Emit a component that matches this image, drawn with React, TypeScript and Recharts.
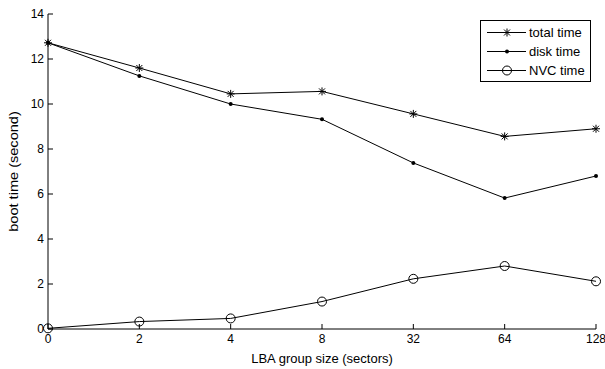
import React from "react"
import { LineChart, Line, XAxis, YAxis, Legend } from "recharts"

const SIZES = ["0", "2", "4", "8", "32", "64", "128"]
const TOTAL = [12.72, 11.6, 10.45, 10.56, 9.56, 8.56, 8.9]
const DISK = [12.72, 11.25, 10.0, 9.32, 7.38, 5.82, 6.8]
const NVC = [0.03, 0.33, 0.47, 1.22, 2.23, 2.8, 2.12]
const Y_TICKS = [0, 2, 4, 6, 8, 10, 12, 14]

const FONT = "'Liberation Sans', Arial, Helvetica, sans-serif"
const INK = "#000"

const data = SIZES.map((x, i) => ({ x, total: TOTAL[i], disk: DISK[i], nvc: NVC[i] }))

function Star({ cx, cy }: { cx: number; cy: number }) {
  const r = 4
  const d = 3
  return (
    <g stroke={INK} strokeWidth={1}>
      <line x1={cx - r} y1={cy} x2={cx + r} y2={cy} />
      <line x1={cx} y1={cy - r} x2={cx} y2={cy + r} />
      <line x1={cx - d} y1={cy - d} x2={cx + d} y2={cy + d} />
      <line x1={cx - d} y1={cy + d} x2={cx + d} y2={cy - d} />
    </g>
  )
}

function Dot({ cx, cy }: { cx: number; cy: number }) {
  return <circle cx={cx} cy={cy} r={2} fill={INK} stroke="none" />
}

function Ring({ cx, cy }: { cx: number; cy: number }) {
  return <circle cx={cx} cy={cy} r={4.5} fill="none" stroke={INK} strokeWidth={1} />
}

const LEGEND_ITEMS = [
  { name: "total time", Marker: Star },
  { name: "disk time", Marker: Dot },
  { name: "NVC time", Marker: Ring },
]

function LegendBox() {
  return (
    <svg width={111} height={62} style={{ display: "block" }}>
      <rect x={0.5} y={0.5} width={110} height={61} fill="#fff" stroke={INK} />
      {LEGEND_ITEMS.map(({ name, Marker }, i) => {
        const y = 12.5 + i * 19
        return (
          <g key={name}>
            <line x1={7} y1={y} x2={46} y2={y} stroke={INK} />
            <Marker cx={27} cy={y} />
            <text x={49} y={y + 4.5} fontSize={13} fontFamily={FONT} fill={INK}>
              {name}
            </text>
          </g>
        )
      })}
    </svg>
  )
}

export default function App() {
  return (
    <div style={{ position: "absolute", left: 0, top: 0, background: "#fff" }}>
      <LineChart
        width={605}
        height={369}
        data={data}
        margin={{ top: 14, right: 9, left: 0, bottom: 0 }}
        style={{ fontFamily: FONT }}
      >
        <XAxis
          dataKey="x"
          height={40}
          stroke={INK}
          tickSize={-5}
          tickMargin={10}
          tick={{ fill: INK, fontSize: 12 }}
          interval={0}
          label={{ value: "LBA group size (sectors)", position: "insideBottom", offset: 6, fill: INK, fontSize: 13 }}
        />
        <XAxis
          xAxisId="top"
          dataKey="x"
          orientation="top"
          height={0}
          stroke={INK}
          tickSize={-5}
          tickFormatter={() => ""}
          interval={0}
        />
        <YAxis
          width={48}
          domain={[0, 14]}
          ticks={Y_TICKS}
          stroke={INK}
          tickSize={-5}
          tickMargin={9}
          tick={{ fill: INK, fontSize: 12 }}
          label={{
            content: ({ viewBox }: any) => {
              const cx = viewBox.x + 14
              const cy = viewBox.y + viewBox.height / 2
              return (
                <text
                  x={0}
                  y={0}
                  transform={`translate(${cx} ${cy}) rotate(-90) scale(1.12 1)`}
                  textAnchor="middle"
                  dominantBaseline="central"
                  fontSize={13}
                  fill={INK}
                  fontFamily={FONT}
                >
                  boot time (second)
                </text>
              )
            },
          }}
        />
        <YAxis
          yAxisId="right"
          orientation="right"
          width={0}
          domain={[0, 14]}
          ticks={Y_TICKS}
          stroke={INK}
          tickSize={-5}
          tickFormatter={() => ""}
        />
        <Legend
          layout="horizontal"
          verticalAlign="middle"
          align="center"
          content={() => <LegendBox />}
          wrapperStyle={{ left: 480, top: 20, width: 111, height: 62 }}
        />
        <Line dataKey="total" stroke={INK} strokeWidth={1} isAnimationActive={false} dot={(p: any) => <Star key={`t${p.index}`} cx={p.cx} cy={p.cy} />} />
        <Line dataKey="disk" stroke={INK} strokeWidth={1} isAnimationActive={false} dot={(p: any) => <Dot key={`d${p.index}`} cx={p.cx} cy={p.cy} />} />
        <Line dataKey="nvc" stroke={INK} strokeWidth={1} isAnimationActive={false} dot={(p: any) => <Ring key={`n${p.index}`} cx={p.cx} cy={p.cy} />} />
      </LineChart>
    </div>
  )
}
